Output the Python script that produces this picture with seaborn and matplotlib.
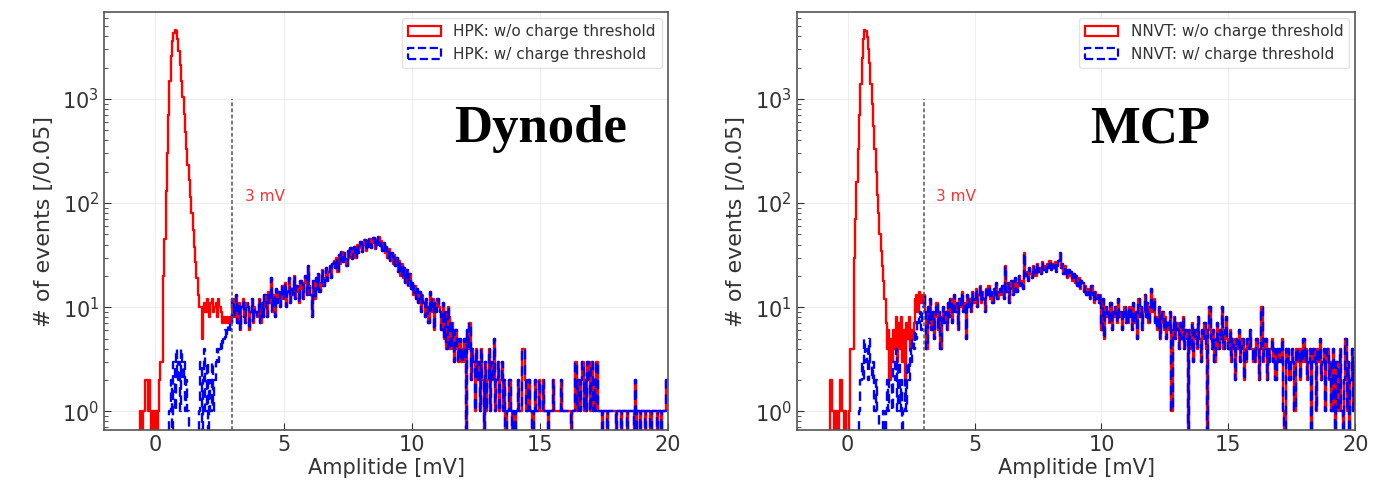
import numpy as np
import matplotlib
matplotlib.use("Agg")
import matplotlib.pyplot as plt
from matplotlib.patches import Patch
import seaborn as sns

sns.set_style("whitegrid")
plt.rcParams['font.family'] = ['DejaVu Sans']

# binning of the amplitude histograms (mV)
bin_width = 0.05
x_min, x_max = -2.0, 20.0

# counts per 0.05 mV bin, one row per mV, starting at -2 mV
hpk_wo = [
    [0]*20,
    [0, 0, 0, 0, 0, 0, 0, 0, 1, 0, 1, 1, 2, 2, 1, 2, 1, 0, 1, 0],
    [1, 0, 1, 2, 3, 3, 20, 45, 130, 300, 700, 1500, 2600, 3600, 4300, 4600, 4500, 3800, 2900, 2100],
    [1500, 1050, 720, 480, 330, 230, 165, 115, 80, 55, 38, 27, 19, 13, 10, 10, 5, 10, 11, 9],
    [12, 10, 8, 11, 12, 9, 10, 11, 8, 12, 10, 9, 7, 8, 7, 7, 8, 7, 8, 7],
    [12, 8, 10, 13, 7, 11, 6, 10, 12, 8, 7, 11, 10, 6, 9, 12, 7, 10, 9, 8],
    [9, 12, 7, 11, 8, 13, 10, 8, 14, 11, 19, 9, 13, 8, 15, 11, 14, 10, 12, 16],
    [12, 17, 10, 14, 19, 11, 15, 13, 20, 12, 16, 14, 11, 18, 15, 12, 17, 20, 13, 25],
    [16, 13, 8, 18, 12, 19, 15, 21, 14, 17, 23, 16, 19, 24, 18, 22, 25, 19, 26, 28],
    [24, 30, 22, 32, 26, 34, 27, 33, 29, 25, 35, 30, 37, 29, 34, 38, 30, 40, 33, 37],
    [42, 34, 40, 44, 35, 43, 38, 45, 37, 41, 46, 36, 44, 40, 47, 39, 43, 35, 41, 33],
    [38, 30, 36, 28, 33, 26, 32, 25, 30, 22, 28, 20, 26, 19, 24, 17, 23, 16, 21, 15],
    [17, 13, 16, 12, 15, 11, 14, 9, 13, 11, 8, 12, 10, 7, 14, 9, 12, 6, 11, 9],
    [12, 10, 9, 6, 11, 5, 9, 4, 10, 8, 4, 7, 5, 3, 6, 4, 3, 5, 3, 4],
    [3, 5, 0, 6, 4, 7, 2, 4, 3, 1, 4, 2, 3, 1, 4, 2, 0, 3, 1, 2],
    [4, 1, 3, 2, 5, 1, 2, 3, 1, 2, 3, 1, 2, 0, 1, 1, 2, 1, 0, 1],
    [0, 1, 1, 2, 1, 1, 4, 4, 2, 1, 1, 2, 1, 1, 0, 1, 2, 1, 1, 2],
    [1, 1, 2, 1, 1, 1, 0, 1, 1, 1, 2, 1, 1, 1, 1, 1, 2, 1, 1, 1],
    [1, 1, 1, 1, 0, 1, 1, 3, 3, 1, 2, 1, 2, 3, 1, 2, 1, 3, 2, 1],
    [3, 1, 2, 1, 3, 1, 1, 1, 0, 1, 1, 1, 0, 1, 1, 1, 1, 1, 1, 0],
    [1, 1, 1, 0, 1, 1, 1, 1, 0, 1, 1, 1, 1, 0, 2, 0, 1, 1, 0, 1],
    [1, 1, 0, 1, 1, 1, 0, 1, 1, 1, 1, 0, 1, 1, 0, 1, 1, 1, 2, 2],
]
# with charge threshold: differs only below 3 mV (-2 .. 3 mV)
hpk_w_low = [
    [0]*20,
    [0]*20,
    [0, 0, 0, 0, 0, 0, 0, 0, 0, 0, 0, 1, 2, 0, 3, 1, 4, 2, 3, 1],
    [4, 2, 3, 1, 2, 1, 0, 0, 0, 0, 0, 0, 0, 0, 1, 3, 0, 2, 4, 1],
    [3, 0, 2, 1, 3, 1, 2, 3, 4, 3, 4, 5, 4, 5, 6, 5, 6, 7, 6, 7],
]

nnvt_wo = [
    [0]*20,
    [0, 0, 0, 0, 0, 0, 2, 2, 1, 0, 1, 1, 0, 1, 2, 2, 1, 0, 1, 0],
    [0, 1, 4, 4, 4, 30, 70, 160, 330, 700, 1400, 2500, 3800, 4600, 4500, 3900, 3000, 2200, 1400, 900],
    [550, 330, 200, 120, 80, 50, 35, 25, 18, 12, 7, 4, 6, 2, 5, 3, 6, 4, 8, 3],
    [7, 4, 8, 3, 6, 2, 7, 5, 8, 4, 6, 5, 7, 12, 13, 9, 14, 11, 13, 11],
    [13, 9, 4, 10, 7, 12, 6, 9, 5, 8, 11, 6, 9, 4, 8, 10, 7, 9, 6, 11],
    [8, 12, 7, 10, 13, 9, 11, 6, 12, 10, 14, 9, 11, 5, 13, 10, 12, 9, 14, 11],
    [12, 15, 10, 13, 16, 11, 14, 12, 9, 15, 13, 16, 12, 14, 11, 15, 13, 17, 12, 14],
    [15, 13, 16, 12, 25, 14, 17, 11, 15, 18, 13, 16, 19, 14, 17, 20, 16, 18, 15, 33],
    [20, 22, 18, 24, 21, 19, 25, 23, 20, 26, 22, 24, 21, 27, 23, 25, 22, 26, 24, 28],
    [23, 26, 24, 27, 22, 25, 28, 33, 24, 26, 21, 25, 22, 19, 23, 20, 22, 18, 21, 17],
    [20, 16, 19, 15, 18, 17, 14, 16, 13, 15, 14, 12, 16, 13, 11, 14, 12, 13, 11, 13],
    [6, 12, 5, 10, 8, 9, 7, 11, 6, 9, 8, 10, 7, 12, 8, 9, 6, 8, 10, 7],
    [9, 7, 10, 8, 6, 11, 7, 9, 5, 12, 8, 10, 6, 9, 13, 8, 11, 7, 10, 15],
    [9, 12, 7, 8, 6, 10, 5, 7, 9, 6, 8, 5, 7, 6, 9, 1, 6, 8, 5, 7],
    [6, 4, 7, 5, 8, 4, 6, 5, 0, 6, 4, 7, 3, 5, 6, 4, 8, 5, 3, 6],
    [5, 7, 4, 0, 6, 10, 5, 4, 6, 3, 5, 7, 4, 6, 5, 10, 4, 6, 8, 5],
    [4, 6, 3, 5, 4, 2, 5, 4, 6, 3, 4, 5, 2, 4, 3, 5, 4, 6, 4, 3],
    [4, 3, 5, 4, 2, 4, 10, 3, 4, 5, 2, 4, 3, 4, 5, 3, 4, 2, 4, 3],
    [4, 3, 5, 1, 0, 4, 3, 4, 2, 3, 4, 3, 1, 4, 3, 4, 2, 4, 3, 5],
    [3, 4, 2, 3, 4, 0, 3, 4, 3, 1, 4, 3, 5, 2, 3, 4, 1, 3, 4, 2],
    [3, 1, 4, 2, 0, 3, 1, 2, 4, 1, 0, 2, 5, 1, 3, 0, 2, 4, 1, 3],
]
nnvt_w_low = [
    [0]*20,
    [0]*20,
    [0, 0, 0, 0, 0, 0, 0, 0, 0, 1, 2, 3, 2, 5, 3, 4, 2, 5, 3, 2],
    [3, 1, 2, 1, 1, 0, 0, 0, 1, 0, 1, 2, 1, 2, 2, 1, 3, 2, 4, 1],
    [3, 1, 2, 0, 1, 2, 1, 3, 2, 4, 3, 5, 4, 6, 5, 8, 7, 9, 6, 10],
]

panels = [
    ("HPK", hpk_wo, hpk_w_low, "Dynode", 0.773),
    ("NNVT", nnvt_wo, nnvt_w_low, "MCP", 0.632),
]

n_bins = int(round((x_max - x_min) / bin_width))
centers = x_min + bin_width * (np.arange(n_bins) + 0.5)

fig = plt.figure(figsize=(13.93, 4.91), dpi=100)
ax_rects = [[0.0747, 0.124, 0.405, 0.851], [0.572, 0.124, 0.401, 0.851]]

for rect, (pmt, wo, w_low, name, name_x) in zip(ax_rects, panels):
    ax = fig.add_axes(rect)
    counts_wo = np.concatenate(wo).astype(float)
    low = np.concatenate(w_low).astype(float)
    counts_w = np.concatenate([low, counts_wo[len(low):]])

    sns.histplot(x=centers, weights=counts_wo, binwidth=bin_width, binrange=(x_min, x_max),
                 element="step", fill=False, color="#ff0000", linewidth=1.7, ax=ax)
    sns.histplot(x=centers, weights=counts_w, binwidth=bin_width, binrange=(x_min, x_max),
                 element="step", fill=False, color="#0000ff", linewidth=1.7,
                 linestyle=(0, (4, 2.5)), ax=ax)

    ax.set_yscale("log")
    ax.set_xlim(x_min, x_max)
    ax.set_ylim(0.66, 6800)
    ax.set_xticks([0, 5, 10, 15, 20])

    ax.plot([3, 3], [0.66, 1000], color="#555555", linestyle=(0, (2.5, 1.5)), linewidth=1.1)
    ax.text(3.5, 115, "3 mV", color="#ff3030", fontsize=11, va="center")
    ax.text(name_x, 0.72, name, transform=ax.transAxes, ha="center", va="center",
            fontsize=38, fontweight="bold", family="Liberation Serif", color="black")

    ax.set_xlabel("Amplitide [mV]", fontsize=15, labelpad=2, color="#333333")
    ax.set_ylabel("# of events [/0.05]", fontsize=16, labelpad=6, color="#333333")
    ax.tick_params(which="both", direction="in", labelsize=15, colors="#333333",
                   left=True, bottom=True)
    ax.tick_params(which="major", length=5)
    ax.tick_params(which="minor", length=3)
    ax.grid(True, which="major", color="#eeeeee", linewidth=0.8)
    for s in ax.spines.values():
        s.set_edgecolor("#555555")
        s.set_linewidth(1.2)

    handles = [
        Patch(facecolor="none", edgecolor="#ff0000", linewidth=1.6,
              label=f"{pmt}: w/o charge threshold"),
        Patch(facecolor="none", edgecolor="#0000ff", linewidth=1.6, linestyle="--",
              label=f"{pmt}: w/ charge threshold"),
    ]
    leg = ax.legend(handles=handles, loc="upper right", fontsize=11, frameon=True,
                    handlelength=2.2, borderaxespad=0.4, labelcolor="#333333")
    leg.get_frame().set_edgecolor("#dddddd")

fig.savefig("out.png", dpi=100)
